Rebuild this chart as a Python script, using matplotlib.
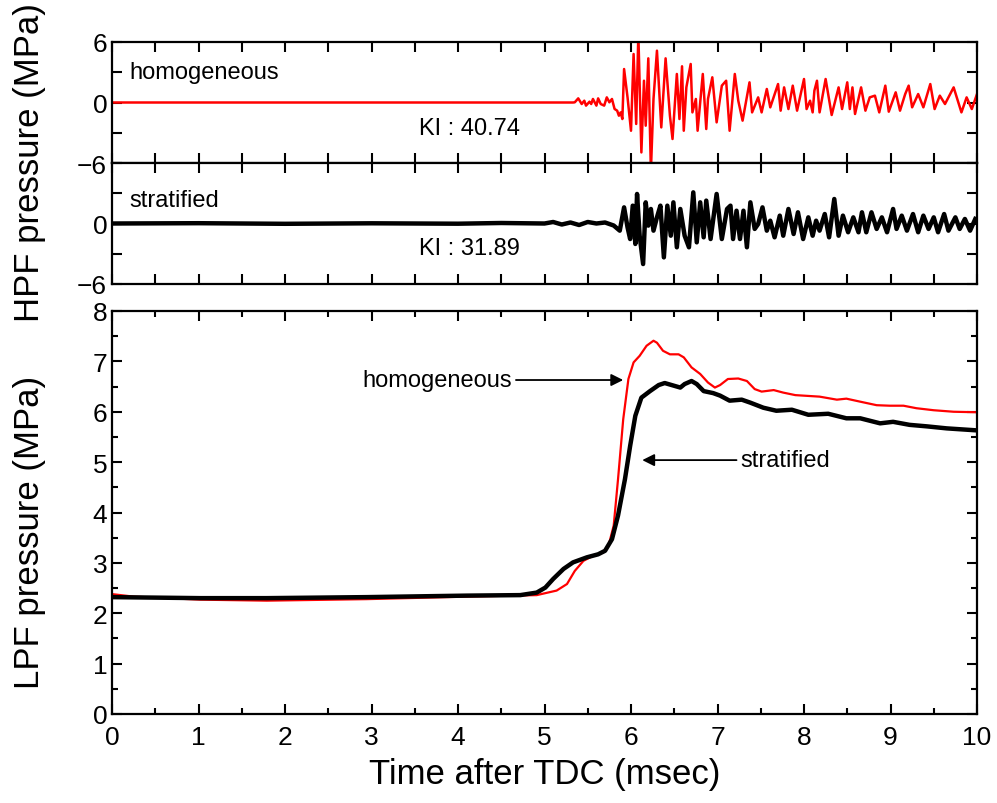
import matplotlib
matplotlib.use("Agg")
import matplotlib.pyplot as plt
from matplotlib.ticker import MultipleLocator, FixedLocator

# ---------------- data ----------------
HOM_HPF_T = [0.0, 5.33, 5.35, 5.39, 5.43, 5.46, 5.48, 5.52, 5.54, 5.56, 5.60, 5.62, 5.65, 5.69,
             5.72, 5.75, 5.78, 5.81, 5.84, 5.86, 5.88, 5.90, 5.92, 5.96, 6.00, 6.03, 6.06, 6.085,
             6.12, 6.15, 6.17, 6.20, 6.23, 6.26, 6.30, 6.35, 6.40, 6.45, 6.48, 6.53, 6.56, 6.59,
             6.61, 6.64, 6.69, 6.71, 6.75, 6.77, 6.83, 6.87, 6.89, 6.94, 6.99, 7.05, 7.10, 7.14,
             7.20, 7.24, 7.29, 7.37, 7.40, 7.47, 7.51, 7.57, 7.61, 7.70, 7.73, 7.77, 7.82, 7.87,
             7.92, 8.00, 8.03, 8.07, 8.10, 8.12, 8.15, 8.18, 8.25, 8.32, 8.40, 8.44, 8.50, 8.53,
             8.56, 8.59, 8.66, 8.71, 8.76, 8.82, 8.87, 8.94, 8.98, 9.06, 9.11, 9.17, 9.21, 9.25,
             9.32, 9.38, 9.46, 9.51, 9.57, 9.63, 9.73, 9.82, 9.88, 9.94, 10.0]
HOM_HPF = [0.0, 0.0, 0.02, 0.41, -0.15, 0.18, -0.31, 0.08, -0.15, 0.35, -0.31, 0.41, -0.15, -0.31,
           0.51, 0.02, 0.35, -0.64, -0.81, -1.31, -0.98, -1.64, 3.32, 0.51, -2.80, 4.81, -2.13, 6.8,
           -4.95, 2.16, -2.30, 4.38, -6.8, 0.35, 5.14, -2.47, 4.38, -1.31, -3.62, 2.83, -1.64, 3.59,
           -2.80, 1.50, 3.82, -0.98, 0.35, -2.80, 2.83, -2.63, 0.35, 2.50, -1.97, 1.67, 2.16, -2.80,
           2.83, 0.18, -1.80, 2.00, -0.98, 0.51, -0.98, 1.34, -0.48, 1.83, -0.81, 1.50, -0.65, 1.67,
           -0.81, 2.33, -0.65, 0.18, -0.98, 1.17, 2.16, -0.98, 2.33, -1.24, 1.50, -0.65, 2.00, -0.65,
           1.50, -1.14, 1.50, -0.81, 0.51, 0.68, -0.98, 1.67, -0.91, 1.01, -0.81, 0.84, 1.67, -0.48,
           0.84, -0.48, 1.83, -0.65, 0.68, -0.15, 1.50, -0.98, 0.51, -0.65, 0.84]

STR_HPF_T = [0.0, 1.0, 2.0, 3.0, 4.0, 4.5, 5.0, 5.1, 5.2, 5.3, 5.4, 5.5, 5.6, 5.7, 5.8,
             5.87, 5.92, 5.96, 5.99, 6.02, 6.05, 6.07, 6.10, 6.14, 6.17, 6.20, 6.23, 6.26, 6.30,
             6.34, 6.38, 6.42, 6.46, 6.49, 6.53, 6.57, 6.62, 6.67, 6.72, 6.76, 6.80, 6.84, 6.87,
             6.92, 6.99, 7.05, 7.11, 7.15, 7.18, 7.22, 7.26, 7.30, 7.34, 7.38, 7.43, 7.47, 7.52,
             7.57, 7.61, 7.66, 7.72, 7.76, 7.82, 7.88, 7.93, 7.99, 8.05, 8.10, 8.14, 8.18, 8.24,
             8.29, 8.35, 8.40, 8.45, 8.51, 8.57, 8.63, 8.67, 8.72, 8.78, 8.84, 8.90, 8.96, 9.03,
             9.07, 9.13, 9.19, 9.26, 9.32, 9.38, 9.44, 9.50, 9.55, 9.62, 9.67, 9.75, 9.80, 9.86,
             9.92, 9.98]
STR_HPF = [0.0, 0.03, -0.03, 0.02, -0.02, 0.05, 0.0, 0.15, -0.10, 0.10, -0.15, 0.15, 0.0, 0.10, -0.20,
           -0.71, 1.60, -0.38, -1.54, 1.77, -2.03, 2.93, -1.21, -4.02, 2.10, -0.21, 1.44, -0.71, 0.61,
           1.77, -3.36, 1.77, -1.21, 2.10, -2.36, 1.44, -1.21, -2.36, 3.09, -1.87, 2.10, -1.37, 2.27,
           -1.54, 2.93, -1.54, 1.44, 1.77, -1.54, 1.27, -1.54, 1.27, -2.36, 2.10, -0.54, -0.05, 1.60,
           -0.71, 0.28, -1.37, 0.78, -1.21, 1.44, -1.04, 1.11, -1.54, 0.61, -1.21, 0.28, -0.71, 0.94,
           -1.37, 2.43, -1.21, 0.78, -0.87, 0.61, -0.87, 1.11, -0.87, 1.11, -0.54, 0.61, -0.87, 1.44,
           -0.54, 0.78, -0.71, 0.94, -0.87, 0.78, -0.54, 0.61, -0.87, 0.94, -0.71, 0.61, -0.54, 0.45,
           -0.71, 0.45]

HOM_LPF_T = [0.0, 0.25, 1.02, 1.79, 2.94, 4.10, 4.91, 5.14, 5.26, 5.35, 5.45, 5.56, 5.68, 5.74,
             5.80, 5.85, 5.91, 5.97, 6.03, 6.10, 6.18, 6.26, 6.30, 6.37, 6.45, 6.55, 6.61, 6.70,
             6.80, 6.89, 6.97, 7.03, 7.12, 7.24, 7.34, 7.43, 7.51, 7.65, 7.76, 7.90, 8.18, 8.38,
             8.49, 8.65, 8.84, 8.99, 9.15, 9.30, 9.50, 9.73, 10.0]
HOM_LPF = [2.38, 2.33, 2.27, 2.25, 2.28, 2.33, 2.36, 2.45, 2.58, 2.84, 3.04, 3.14, 3.21, 3.34,
           3.74, 4.66, 5.85, 6.65, 6.98, 7.11, 7.31, 7.41, 7.37, 7.21, 7.14, 7.14, 7.08, 6.88,
           6.75, 6.58, 6.48, 6.53, 6.65, 6.66, 6.61, 6.45, 6.40, 6.43, 6.38, 6.33, 6.30, 6.24,
           6.26, 6.20, 6.13, 6.12, 6.12, 6.07, 6.03, 6.00, 5.99]

STR_LPF_T = [0.0, 1.02, 1.79, 2.94, 4.10, 4.72, 4.91, 5.01, 5.10, 5.22, 5.33, 5.49, 5.62, 5.70,
             5.78, 5.85, 5.93, 5.99, 6.05, 6.12, 6.22, 6.32, 6.39, 6.47, 6.57, 6.62, 6.70, 6.76,
             6.84, 6.95, 7.03, 7.14, 7.28, 7.38, 7.53, 7.68, 7.86, 8.05, 8.28, 8.49, 8.65, 8.88,
             9.03, 9.22, 9.42, 9.65, 10.0]
STR_LPF = [2.32, 2.30, 2.30, 2.32, 2.35, 2.36, 2.41, 2.51, 2.68, 2.88, 3.01, 3.11, 3.17, 3.24,
           3.47, 3.94, 4.66, 5.32, 5.92, 6.28, 6.41, 6.53, 6.57, 6.53, 6.48, 6.55, 6.61, 6.55,
           6.41, 6.37, 6.32, 6.22, 6.24, 6.18, 6.08, 6.02, 6.04, 5.94, 5.96, 5.87, 5.87, 5.77,
           5.80, 5.74, 5.71, 5.67, 5.63]

HPF_TICKS = [-6, 0, 6]
TOP_TICK_LABELS = ["\u22126", "0", "6"]
MID_TICK_LABELS = ["\u22126", "0", ""]
KI_HOM = "KI : 40.74"
KI_STR = "KI : 31.89"

# ---------------- style ----------------
FONT = ["Liberation Sans", "DejaVu Sans"]
plt.rcParams["font.family"] = FONT
plt.rcParams["axes.linewidth"] = 1.6

fig = plt.figure(figsize=(9.97, 8.04), dpi=100)
L, W = 112 / 997, 865 / 997
ax1 = fig.add_axes([L, 1 - 164 / 804, W, 121 / 804])
ax2 = fig.add_axes([L, 1 - 285 / 804, W, 121 / 804])
ax3 = fig.add_axes([L, 1 - 715 / 804, W, 403 / 804])

TICKFS = 19

def style(ax):
    ax.tick_params(which="both", direction="in", top=True, right=True, width=1.5,
                   labelsize=TICKFS)
    ax.tick_params(which="major", length=7)
    ax.tick_params(which="minor", length=4)

for ax, labels in ((ax1, TOP_TICK_LABELS), (ax2, MID_TICK_LABELS)):
    ax.set_xlim(0, 10)
    ax.set_ylim(-6, 6)
    ax.xaxis.set_major_locator(MultipleLocator(0.5))
    ax.set_yticks(HPF_TICKS)
    ax.set_yticklabels(labels)
    ax.yaxis.set_minor_locator(FixedLocator([-3, 3]))
    style(ax)
    ax.tick_params(axis="x", labelbottom=False)
    ax.tick_params(which="minor", length=7)

ax1.plot(HOM_HPF_T, HOM_HPF, color="#ff0000", lw=1.8, solid_joinstyle="round")
ax2.plot(STR_HPF_T, STR_HPF, color="black", lw=3.2, solid_joinstyle="round")

ax1.text(0.2, 3.0, "homogeneous", fontsize=17, va="center", ha="left")
ax1.text(3.55, -2.5, KI_HOM, fontsize=17, va="center", ha="left")
ax2.text(0.2, 2.3, "stratified", fontsize=17, va="center", ha="left")
ax2.text(3.55, -2.4, KI_STR, fontsize=17, va="center", ha="left")

ax3.plot(HOM_LPF_T, HOM_LPF, color="#ff0000", lw=1.6)
ax3.plot(STR_LPF_T, STR_LPF, color="black", lw=3.2)
ax3.set_xlim(0, 10)
ax3.set_ylim(0, 8)
ax3.xaxis.set_major_locator(MultipleLocator(1))
ax3.xaxis.set_minor_locator(MultipleLocator(0.5))
ax3.yaxis.set_major_locator(MultipleLocator(1))
ax3.yaxis.set_minor_locator(MultipleLocator(0.5))
style(ax3)
ax3.tick_params(axis="x", pad=8)

ax3.annotate("", xy=(5.91, 6.63), xytext=(4.67, 6.63),
             arrowprops=dict(arrowstyle="-|>", color="black", lw=1.3, mutation_scale=18,
                             shrinkA=0, shrinkB=0))
ax3.text(4.62, 6.63, "homogeneous", fontsize=17, va="center", ha="right")
ax3.annotate("", xy=(6.13, 5.04), xytext=(7.22, 5.04),
             arrowprops=dict(arrowstyle="-|>", color="black", lw=1.3, mutation_scale=18,
                             shrinkA=0, shrinkB=0))
ax3.text(7.27, 5.04, "stratified", fontsize=17, va="center", ha="left")

ax3.set_xlabel("Time after TDC (msec)", fontsize=25, labelpad=6)
fig.text(30 / 997, 1 - 163 / 804, "HPF pressure (MPa)", rotation=90,
         fontsize=25, ha="center", va="center")
fig.text(30 / 997, 1 - 532 / 804, "LPF pressure (MPa)", rotation=90,
         fontsize=25, ha="center", va="center")

fig.savefig("out.png", dpi=100)
